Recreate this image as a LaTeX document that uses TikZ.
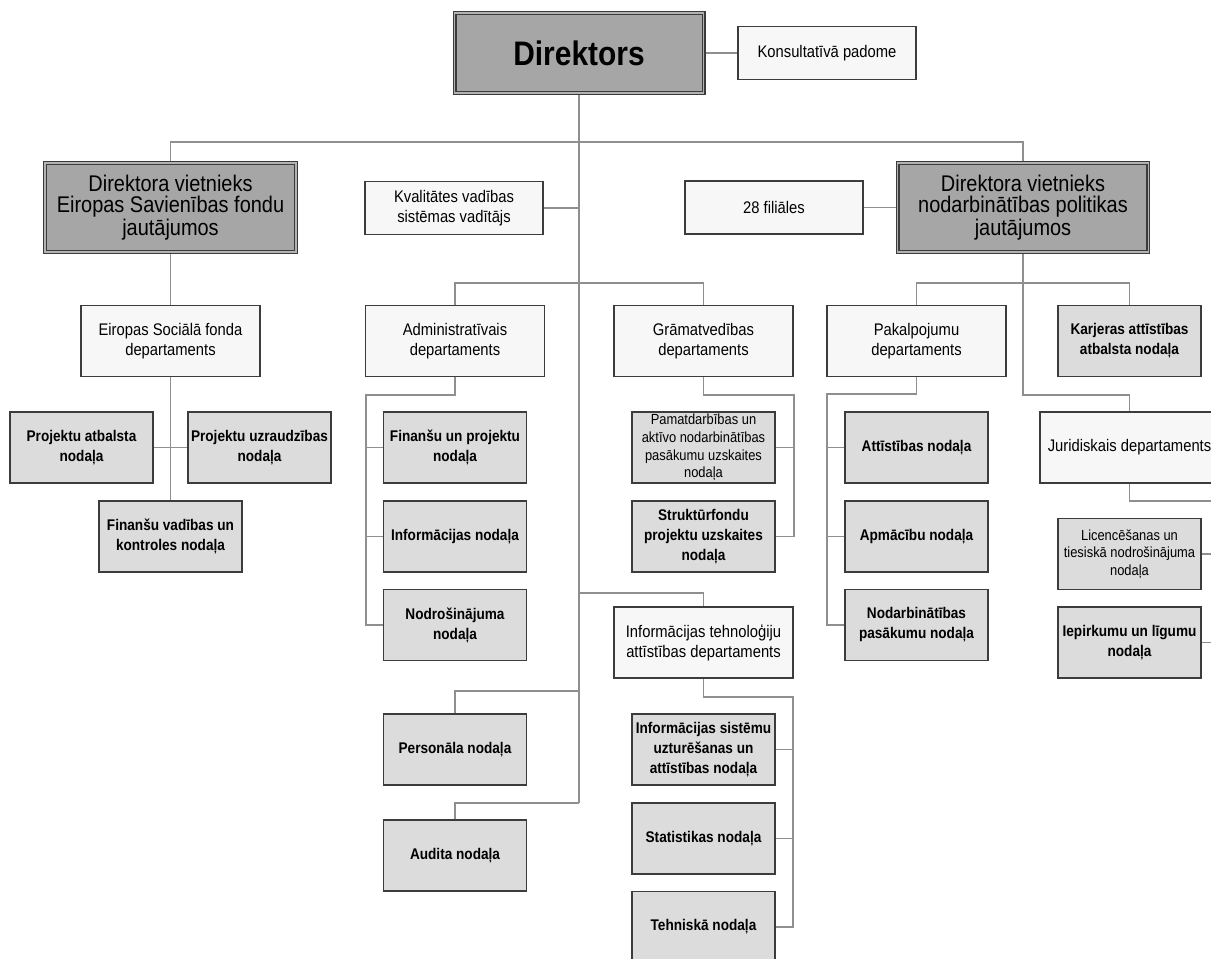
\documentclass[tikz,border=0pt]{standalone}
\usepackage{fontspec}
\setmainfont{Liberation Sans}[FakeStretch=0.88]
\usetikzlibrary{backgrounds}

\definecolor{darkfill}{HTML}{A6A6A6}
\definecolor{deptfill}{HTML}{F7F7F7}
\definecolor{unitfill}{HTML}{DCDCDC}
\definecolor{edgecol}{HTML}{3C3C3C}
\definecolor{linkcol}{HTML}{8F8F8F}

\tikzset{
  base/.style={rectangle, align=center, inner sep=0pt, text=black},
  headbox/.style={base, draw=edgecol, double=gray!60, double distance=1.2pt,
    line width=0.9pt, fill=darkfill},
  chief/.style={headbox, minimum width=186.75pt, minimum height=60pt,
    font=\fontsize{25.5}{30}\selectfont\bfseries},
  deputy/.style={headbox, minimum width=188pt, minimum height=66.75pt,
    font=\fontsize{17}{15.75}\selectfont},
  plainbox/.style={base, draw=edgecol, line width=1.1pt, fill=deptfill,
    font=\fontsize{12.6}{15}\selectfont},
  smallbox/.style={plainbox, minimum width=133.5pt, minimum height=40pt},
  dept/.style={plainbox, minimum width=134.25pt, minimum height=53.25pt},
  unit/.style={base, draw=edgecol, line width=1.1pt, fill=unitfill,
    minimum width=107.25pt, minimum height=53.25pt,
    font=\fontsize{11.6}{15}\selectfont\bfseries},
  unitsmall/.style={unit, font=\fontsize{11}{13.3}\selectfont},
  link/.style={draw=linkcol, line width=1.2pt},
}

\begin{document}
\begin{tikzpicture}[x=0.75pt, y=-0.75pt]
\useasboundingbox (0,0) rectangle (1211,958);

% top level
\node[chief] (dir) at (579,53) {Direktors};
\node[smallbox] (kons) at (827,53) {Konsultatīvā padome};

% deputies and staff
\node[deputy] (dep1) at (170.5,207.5) {Direktora vietnieks\\Eiropas Savienības fondu\\jautājumos};
\node[smallbox] (kval) at (454,208) {Kvalitātes vadības\\sistēmas vadītājs};
\node[smallbox] (fil) at (774,207.5) {28 filiāles};
\node[deputy] (dep2) at (1023,207.5) {Direktora vietnieks\\nodarbinātības politikas\\jautājumos};

% European Social Fund branch
\node[dept] (esf) at (170.5,341) {Eiropas Sociālā fonda\\departaments};
\node[unit] (pab) at (81.5,447.5) {Projektu atbalsta\\nodaļa};
\node[unit] (puz) at (259.5,447.5) {Projektu uzraudzības\\nodaļa};
\node[unit] (fvk) at (170.5,536.5) {Finanšu vadības un\\kontroles nodaļa};

% administrative department
\node[dept] (adm) at (455,341) {Administratīvais\\departaments};
\node[unit] (fpn) at (455,447.5) {Finanšu un projektu\\nodaļa};
\node[unit] (inf) at (455,536.5) {Informācijas nodaļa};
\node[unit] (nodr) at (455,625) {Nodrošinājuma\\nodaļa};
\node[unit] (pers) at (455,749.5) {Personāla nodaļa};
\node[unit] (aud) at (455,855.5) {Audita nodaļa};

% accounting department
\node[dept] (gram) at (703.5,341) {Grāmatvedības\\departaments};
\node[unitsmall] (pam) at (703.5,447.5) {Pamatdarbības un\\aktīvo nodarbinātības\\pasākumu uzskaites\\nodaļa};
\node[unit] (str) at (703.5,536.5) {Struktūrfondu\\projektu uzskaites\\nodaļa};

% IT department
\node[dept] (it) at (703.5,642.5) {Informācijas tehnoloģiju\\attīstības departaments};
\node[unit] (iss) at (703.5,749.5) {Informācijas sistēmu\\uzturēšanas un\\attīstības nodaļa};
\node[unit] (stat) at (703.5,838.5) {Statistikas nodaļa};
\node[unit] (teh) at (703.5,927) {Tehniskā nodaļa};

% services department
\node[dept] (pak) at (916.5,341) {Pakalpojumu\\departaments};
\node[unit] (att) at (916.5,447.5) {Attīstības nodaļa};
\node[unit] (apm) at (916.5,536.5) {Apmācību nodaļa};
\node[unit] (nps) at (916.5,625) {Nodarbinātības\\pasākumu nodaļa};
\node[unit] (kar) at (1129.5,341) {Karjeras attīstības\\atbalsta nodaļa};

% legal department
\node[dept] (jur) at (1129.5,447.5) {Juridiskais departaments};
\node[unitsmall] (lic) at (1129.5,554) {Licencēšanas un\\tiesiskā nodrošinājuma\\nodaļa};
\node[unit] (iep) at (1129.5,642.5) {Iepirkumu un līgumu\\nodaļa};

% junction points of the connector runs
\coordinate (bus1) at (579,142);
\coordinate (bus2) at (579,283);
\coordinate (bus3) at (1023,283);
\coordinate (itB) at (579,593);
\coordinate (persB) at (579,691);
\coordinate (trunkend) at (579,803);
\coordinate (admR) at (366,395);
\coordinate (gramR) at (794,395);
\coordinate (itR) at (793,697);
\coordinate (pakR) at (827,394);
\coordinate (jurB) at (1023,395);
\coordinate (jurR) at (1215,501);

\begin{pgfonlayer}{background}
\fill[white] (0,0) rectangle (1211,958);

\path[link] (dir.east) -- (kons.west);
\path[link] (dir.south) -- (trunkend);
\path[link] (dep1.north) |- (bus1) -| (dep2.north);
\path[link] (kval.east) -- (kval.east -| bus1);
\path[link] (fil.east) -- (dep2.west);

\path[link] (dep1.south) -- (esf.north);
\path[link] (esf.south) -- (fvk.north);
\path[link] (pab.east) -- (puz.west);

\path[link] (adm.north) |- (bus2) -| (gram.north);
\path[link] (adm.south) |- (admR) |- (nodr.west);
\path[link] (fpn.west) -- (fpn.west -| admR);
\path[link] (inf.west) -- (inf.west -| admR);
\path[link] (persB) -| (pers.north);
\path[link] (trunkend) -| (aud.north);

\path[link] (gram.south) |- (gramR) |- (str.east);
\path[link] (pam.east) -- (pam.east -| gramR);

\path[link] (itB) -| (it.north);
\path[link] (it.south) |- (itR) |- (teh.east);
\path[link] (iss.east) -- (iss.east -| itR);
\path[link] (stat.east) -- (stat.east -| itR);

\path[link] (dep2.south) -- (jurB) -| (jur.north);
\path[link] (pak.north) |- (bus3) -| (kar.north);
\path[link] (pak.south) |- (pakR) |- (nps.west);
\path[link] (att.west) -- (att.west -| pakR);
\path[link] (apm.west) -- (apm.west -| pakR);

\path[link] (jur.south) |- (jurR) |- (iep.east);
\path[link] (lic.east) -- (lic.east -| jurR);
\end{pgfonlayer}
\end{tikzpicture}
\end{document}
